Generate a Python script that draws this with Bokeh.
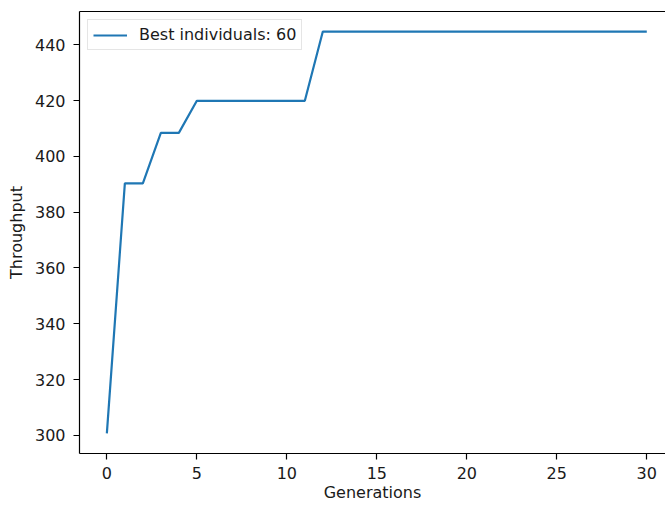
from bokeh.plotting import figure
from bokeh.models import Range1d, LinearAxis, FixedTicker, Legend, LegendItem
from bokeh.embed import file_html
from bokeh.resources import INLINE

generations = list(range(31))
throughput = [300.7, 390.3, 390.3, 408.4, 408.4] + [419.9] * 7 + [444.7] * 19
series_label = "Best individuals: 60"
x_ticks = [0, 5, 10, 15, 20, 25, 30]
y_ticks = [300, 320, 340, 360, 380, 400, 420, 440]

FONT = "DejaVu Sans"
FS = "16px"
TXT = "#1a1a1a"

p = figure(width=665, height=505, output_backend="svg", toolbar_location=None,
           x_range=Range1d(-1.52, 31.04), y_range=Range1d(293.5, 451.9),
           x_axis_location=None, y_axis_location=None,
           min_border_left=79, min_border_right=0, min_border_top=11, min_border_bottom=52)
p.outline_line_color = None
p.xgrid.visible = False
p.ygrid.visible = False
p.background_fill_color = "white"
p.border_fill_color = "white"

def style(ax, label):
    ax.axis_line_color = "black"
    ax.axis_line_width = 1.2
    ax.major_tick_line_color = "black"
    ax.major_tick_line_width = 1.2
    ax.major_tick_in = 0
    ax.major_tick_out = 6
    ax.minor_tick_line_color = None
    ax.major_label_text_font = FONT
    ax.major_label_text_font_size = FS
    ax.major_label_text_color = TXT
    ax.axis_label = label
    ax.axis_label_text_font = FONT
    ax.axis_label_text_font_size = FS
    ax.axis_label_text_font_style = "normal"
    ax.axis_label_text_color = TXT

xaxis = LinearAxis(ticker=FixedTicker(ticks=x_ticks))
style(xaxis, "Generations")
xaxis.major_label_standoff = 7
xaxis.axis_label_standoff = 1
p.add_layout(xaxis, "below")

yaxis = LinearAxis(ticker=FixedTicker(ticks=y_ticks))
style(yaxis, "Throughput")
yaxis.major_label_standoff = 8
yaxis.axis_label_standoff = 6
p.add_layout(yaxis, "left")

top = LinearAxis(ticker=FixedTicker(ticks=[]))
top.axis_line_color = "black"
top.axis_line_width = 1.2
top.major_tick_line_color = None
top.minor_tick_line_color = None
top.major_label_text_font_size = "0px"
top.major_label_standoff = 0
top.major_tick_out = 0
top.major_tick_in = 0
p.add_layout(top, "above")

r = p.line(generations, throughput, line_color="#1f77b4", line_width=2.2)

legend = Legend(items=[LegendItem(label=series_label, renderers=[r])],
                location="top_left")
legend.margin = 8
legend.padding = 5
legend.spacing = 0
legend.label_standoff = 12
legend.glyph_width = 34
legend.glyph_height = 16
legend.label_height = 16
legend.label_text_font = FONT
legend.label_text_font_size = FS
legend.label_text_color = TXT
legend.border_line_color = "#cccccc"
legend.border_line_width = 1
legend.background_fill_color = "white"
legend.background_fill_alpha = 0.8
p.add_layout(legend, "center")

open("out.html", "w").write(file_html(p, INLINE))
